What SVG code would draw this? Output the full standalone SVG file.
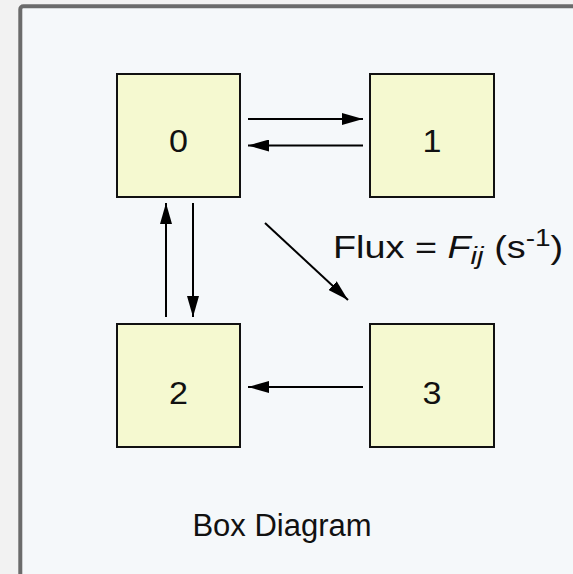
<svg xmlns="http://www.w3.org/2000/svg" width="573" height="574" viewBox="0 0 573 574">
<defs>
<style>
.frame{fill:#f5f8fa;stroke:#6b6b6b;stroke-width:4}
.box{fill:#f5f9d0;stroke:#111;stroke-width:2}
.lbl{font-family:"Liberation Sans",Arial,sans-serif;font-size:31px;fill:#111;text-anchor:middle}
.txt{font-family:"Liberation Sans",Arial,sans-serif;font-size:31px;fill:#111}
.conn{stroke:#000;stroke-width:2;fill:none;marker-end:url(#ah)}
</style>
<marker id="ah" viewBox="0 0 21 12" refX="21" refY="6" markerWidth="21" markerHeight="12" markerUnits="userSpaceOnUse" orient="auto">
<path d="M0,0 L21,6 L0,12 Z" fill="#000"/>
</marker>
</defs>
<rect x="0" y="0" width="573" height="574" fill="#f2f2f2"/>
<rect class="frame" x="20.3" y="6.3" width="600" height="600" rx="3"/>
<g id="connectors">
<line class="conn" x1="248" y1="119" x2="363" y2="119"/>
<line class="conn" x1="363" y1="145.5" x2="248" y2="145.5"/>
<line class="conn" x1="166" y1="317" x2="166" y2="203"/>
<line class="conn" x1="193" y1="203" x2="193" y2="317"/>
<line class="conn" x1="265" y1="223" x2="348" y2="300"/>
<line class="conn" x1="363" y1="387" x2="248" y2="387"/>
</g>
<g id="node0"><rect class="box" x="117" y="74" width="123" height="123"/><text class="lbl" transform="translate(178.5,152) scale(1.1,1)">0</text></g>
<g id="node1"><rect class="box" x="370" y="74" width="124" height="123"/><text class="lbl" transform="translate(432,152) scale(1.1,1)">1</text></g>
<g id="node2"><rect class="box" x="117" y="324" width="123" height="123"/><text class="lbl" transform="translate(178.5,404) scale(1.1,1)">2</text></g>
<g id="node3"><rect class="box" x="370" y="324" width="124" height="123"/><text class="lbl" transform="translate(432,404) scale(1.1,1)">3</text></g>
<text class="txt" font-size="34" transform="translate(333,258) scale(1.22,1)">Flux = <tspan font-style="italic">F</tspan><tspan font-style="italic" font-size="24" dy="6">ij</tspan><tspan dy="-6"> (s</tspan><tspan font-size="23" dy="-12">-1</tspan><tspan dy="12">)</tspan></text>
<text class="txt" x="282" y="536" text-anchor="middle">Box Diagram</text>
</svg>
